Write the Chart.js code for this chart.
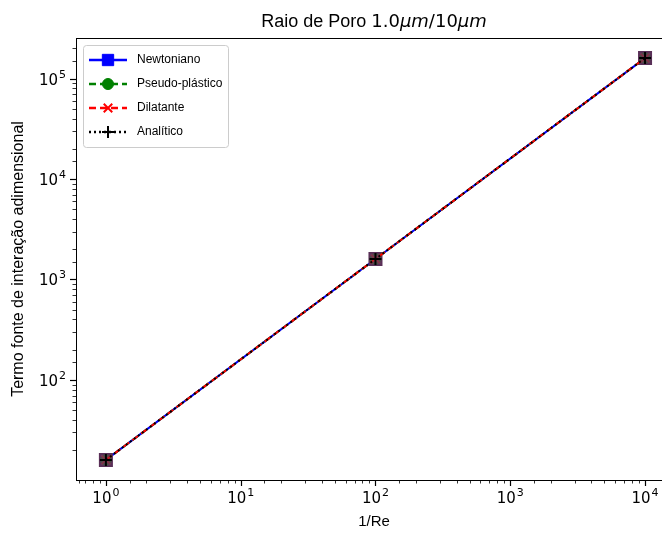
<!DOCTYPE html>
<html>
<head>
<meta charset="utf-8">
<script src="https://cdn.jsdelivr.net/npm/chart.js@4.4.0/dist/chart.umd.min.js"></script>
<style>
  html, body { margin: 0; padding: 0; background: #fff; overflow: hidden; }
  #wrap { width: 662px; height: 536px; overflow: hidden; }
</style>
</head>
<body>
<div id="wrap"><canvas id="myChart" width="690" height="536"></canvas></div>
<script>
const reInverse = [1, 100, 10000];
const newtoniano = [16, 1600, 160000];
const pseudoPlastico = [16, 1600, 160000];
const dilatante = [16, 1600, 160000];
const analitico = [16, 1600, 160000];
const xTicks = [1, 10, 100, 1000, 10000];
const yTicks = [100, 1000, 10000, 100000];

const SANS = "'Liberation Sans', Arial, sans-serif";
const MATH = "'DejaVu Sans', sans-serif";

function toPoints(ys) {
  return reInverse.map((x, i) => ({ x: x, y: ys[i] }));
}

// dibuja "10" + exponente
function drawPow(ctx, v, x, y, align) {
  const e = String(Math.round(Math.log10(v)));
  ctx.font = "15px " + MATH;
  const wb = ctx.measureText("10").width;
  ctx.font = "11px " + MATH;
  const we = ctx.measureText(e).width;
  const total = wb + we + 1;
  let sx = x;
  if (align === "center") sx = x - total / 2;
  if (align === "right") sx = x - total;
  ctx.textAlign = "left";
  ctx.textBaseline = "alphabetic";
  ctx.font = "15px " + MATH;
  ctx.fillText("10", sx, y);
  ctx.font = "11px " + MATH;
  ctx.fillText(e, sx + wb + 1, y - 7);
}

// marco, ticks y etiquetas estilo matplotlib
const framePlugin = {
  id: "frame",
  afterDraw(chart) {
    const ctx = chart.ctx;
    const a = chart.chartArea;
    ctx.save();
    ctx.strokeStyle = "#000";
    ctx.lineWidth = 1;
    ctx.strokeRect(a.left + 0.5, a.top + 0.5, a.right - a.left, a.bottom - a.top);

    const xs = chart.scales.x;
    xs.ticks.forEach((t) => {
      const px = Math.round(xs.getPixelForValue(t.value)) + 0.5;
      if (px <= a.left + 1 || px >= a.right - 1) return;
      const major = xTicks.includes(t.value);
      ctx.lineWidth = major ? 1.2 : 0.8;
      ctx.beginPath();
      ctx.moveTo(px, a.bottom);
      ctx.lineTo(px, a.bottom + (major ? 6 : 3.5));
      ctx.stroke();
    });
    const ys = chart.scales.y;
    ys.ticks.forEach((t) => {
      const py = Math.round(ys.getPixelForValue(t.value)) + 0.5;
      if (py <= a.top + 1 || py >= a.bottom - 1) return;
      const major = yTicks.includes(t.value);
      ctx.lineWidth = major ? 1.2 : 0.8;
      ctx.beginPath();
      ctx.moveTo(a.left, py);
      ctx.lineTo(a.left - (major ? 6 : 3.5), py);
      ctx.stroke();
    });

    ctx.fillStyle = "#000";
    xTicks.forEach((v) => {
      drawPow(ctx, v, xs.getPixelForValue(v), a.bottom + 23, "center");
    });
    yTicks.forEach((v) => {
      drawPow(ctx, v, a.left - 10, ys.getPixelForValue(v) + 6, "right");
    });
    ctx.restore();
  },
};

// titulo con parte matematica
const titlePlugin = {
  id: "mathTitle",
  afterDraw(chart) {
    const ctx = chart.ctx;
    const a = chart.chartArea;
    const parts = [
      { t: "Raio de Poro ", f: "18px " + SANS },
      { t: "1.0", f: "18px " + MATH },
      { t: "μm", f: "oblique 18px " + MATH },
      { t: "/10", f: "18px " + MATH },
      { t: "μm", f: "oblique 18px " + MATH },
    ];
    ctx.save();
    let total = 0;
    parts.forEach((p) => {
      ctx.font = p.f;
      p.w = ctx.measureText(p.t).width;
      total += p.w;
    });
    let x = (a.left + a.right) / 2 - total / 2;
    ctx.fillStyle = "#000";
    ctx.textAlign = "left";
    ctx.textBaseline = "alphabetic";
    parts.forEach((p) => {
      ctx.font = p.f;
      ctx.fillText(p.t, x, 27);
      x += p.w;
    });
    ctx.restore();
  },
};

// leyenda con linea + marcador
const legendPlugin = {
  id: "lineLegend",
  afterDraw(chart) {
    const ctx = chart.ctx;
    const a = chart.chartArea;
    const x0 = a.left + 7;
    const y0 = a.top + 7;
    const w = 145;
    const rowH = 24;
    const sets = chart.data.datasets;
    const h = rowH * sets.length + 6;
    ctx.save();
    ctx.fillStyle = "rgba(255,255,255,0.85)";
    ctx.strokeStyle = "#cccccc";
    ctx.lineWidth = 1;
    ctx.beginPath();
    ctx.roundRect(x0 + 0.5, y0 + 0.5, w, h, 3);
    ctx.fill();
    ctx.stroke();

    sets.forEach((ds, i) => {
      const cy = y0 + 15 + i * rowH;
      const lx = x0 + 6;
      ctx.strokeStyle = ds.borderColor;
      ctx.lineWidth = 2.5;
      ctx.setLineDash(ds.borderDash || []);
      ctx.beginPath();
      ctx.moveTo(lx, cy);
      ctx.lineTo(lx + 38, cy);
      ctx.stroke();
      ctx.setLineDash([]);
      ctx.fillStyle = ds.borderColor;
      ctx.strokeStyle = ds.borderColor;
      ctx.lineWidth = ds.pointBorderWidth || 1;
      Chart.helpers.drawPoint(ctx, {
        pointStyle: ds.pointStyle,
        radius: ds.legendRadius,
        rotation: 0,
        borderWidth: ds.pointBorderWidth || 1,
      }, lx + 19, cy);
      ctx.fillStyle = "#000";
      ctx.font = "12px " + SANS;
      ctx.textBaseline = "middle";
      ctx.textAlign = "left";
      ctx.fillText(ds.label, lx + 48, cy);
    });
    ctx.restore();
  },
};

const ctxChart = document.getElementById("myChart");
new Chart(ctxChart, {
  type: "line",
  data: {
    datasets: [
      {
        label: "Newtoniano",
        data: toPoints(newtoniano),
        borderColor: "#0000ff",
        backgroundColor: "#0000ff",
        pointBackgroundColor: "#6a3c66",
        pointBorderColor: "#5a3058",
        borderWidth: 2,
        pointStyle: "rect",
        pointRadius: 8.5,
        legendRadius: 8,
        order: 3,
      },
      {
        label: "Pseudo-plástico",
        data: toPoints(pseudoPlastico),
        borderColor: "#008000",
        backgroundColor: "#008000",
        pointBackgroundColor: "rgba(0,128,0,0.2)",
        pointBorderColor: "rgba(0,128,0,0.2)",
        borderWidth: 2,
        borderDash: [7, 4],
        pointStyle: "circle",
        pointRadius: 5,
        legendRadius: 5.5,
        order: 2,
      },
      {
        label: "Dilatante",
        data: toPoints(dilatante),
        borderColor: "#ff0000",
        backgroundColor: "#ff0000",
        pointBackgroundColor: "rgba(150,40,70,0.7)",
        pointBorderColor: "rgba(150,40,70,0.7)",
        borderWidth: 2,
        borderDash: [7, 4],
        pointStyle: "crossRot",
        pointRadius: 6,
        pointBorderWidth: 2,
        legendRadius: 6,
        order: 1,
      },
      {
        label: "Analítico",
        data: toPoints(analitico),
        borderColor: "#000000",
        backgroundColor: "#000000",
        borderWidth: 2,
        borderDash: [2, 3],
        pointStyle: "cross",
        pointRadius: 6,
        pointBorderWidth: 2,
        legendRadius: 6,
        order: 0,
      },
    ],
  },
  options: {
    responsive: false,
    animation: false,
    layout: { padding: { left: 0, right: 18, top: 38, bottom: 0 } },
    elements: { line: { tension: 0 } },
    plugins: {
      legend: { display: false },
      tooltip: { enabled: false },
      title: { display: false },
    },
    scales: {
      x: {
        type: "logarithmic",
        min: Math.pow(10, -0.2),
        max: Math.pow(10, 4.2),
        grid: { display: false, drawTicks: false },
        border: { display: false },
        afterFit: (scale) => { scale.height = 56; },
        ticks: { display: false },
        title: {
          display: true,
          text: "1/Re",
          color: "#000",
          font: { family: SANS, size: 15 },
          padding: { top: 0, bottom: 5 },
        },
      },
      y: {
        type: "logarithmic",
        min: Math.pow(10, 1.004),
        max: Math.pow(10, 5.404),
        grid: { display: false, drawTicks: false },
        border: { display: false },
        afterFit: (scale) => { scale.width = 76; },
        ticks: { display: false },
        title: {
          display: true,
          text: "Termo fonte de interação adimensional",
          color: "#000",
          font: { family: SANS, size: 16 },
          padding: { top: 9, bottom: 0 },
        },
      },
    },
  },
  plugins: [framePlugin, titlePlugin, legendPlugin],
});
</script>
</body>
</html>
